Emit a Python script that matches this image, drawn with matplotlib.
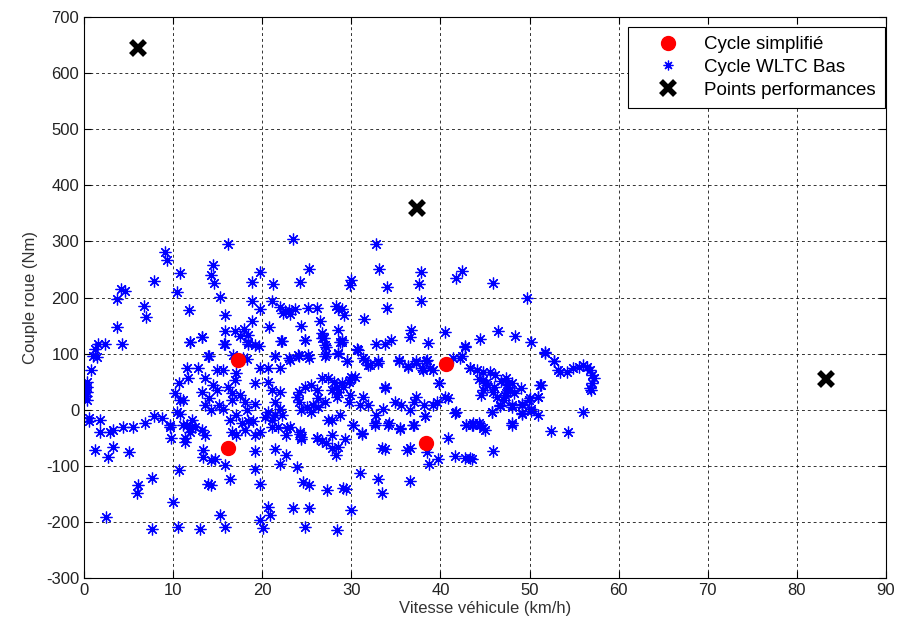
import matplotlib.pyplot as plt

plt.rcParams['font.family'] = ['Liberation Sans', 'DejaVu Sans']
plt.rcParams['axes.unicode_minus'] = False

# Cycle simplifie
simp_v = [17.3, 40.6, 16.1, 38.4]
simp_c = [88, 82, -69, -59]

# Points performances
perf_v = [6.0, 37.4, 83.3]
perf_c = [645, 360, 55]

# Cycle WLTC Bas
wltc_v = [
    # partie haute
    9.1, 9.35, 10.8, 7.9, 4.2, 4.6, 10.4, 3.7, 6.7, 6.9, 11.8, 3.7, 4.3, 11.9, 13.2,
    1.6, 1.2, 2.4, 1.05, 1.4, 0.75, 0.3, 0.3, 13.9, 14.5, 14.3, 14.6,
    16.2, 23.5, 19.7, 18.9, 21.2, 24.2, 25.3, 15.3, 18.9, 19.7, 21.1,
    22.0, 22.6, 23.1, 23.7, 22.3, 23.0, 25.1, 26.1, 28.3, 28.5,
    15.8, 18.9, 20.8, 24.4, 26.5, 15.8, 16.9, 17.9, 17.5, 18.4,
    15.7, 18.4, 19.6, 22.1, 24.8, 26.7, 26.9, 27.0, 27.2, 28.5, 28.9,
    16.7, 17.8, 21.4, 23.0, 24.0, 25.1, 28.5,
    32.8, 33.1, 30.0, 29.9, 34.0, 37.8, 37.6, 42.4, 41.8, 37.8, 34.0, 28.9, 29.2,
    31.4, 36.7, 36.6, 40.5, 32.8, 33.8, 34.5, 38.6, 42.8, 28.9,
    30.6, 31.3, 31.9, 33.0, 35.4, 36.4, 37.3, 38.4, 38.0, 39.2, 39.8, 42.2, 43.3,
    29.5, 30.0, 29.7, 28.9, 33.8,
    45.9, 49.7, 44.4, 46.5, 48.4, 50.2, 51.7, 52.7,
    53.4, 54.2, 54.9, 55.5, 56.0, 56.4, 56.8, 57.0, 57.2, 57.0, 56.8, 51.3,
    44.3, 45.1, 46.0, 46.8, 47.5, 48.3, 49.0, 44.8, 47.2,
    # partie gauche / negative
    0.3, 0.3, 0.2, 0.1, 0.6, 0.5, 1.8, 1.8, 2.9, 3.3, 4.4, 5.5, 6.8, 7.8, 8.7, 9.7,
    1.2, 3.3, 2.7, 5.0, 10.6, 7.6, 6.0, 5.9, 10.0, 13.9, 2.5, 7.6, 10.5, 13.0,
    11.1, 11.5, 11.9, 11.3, 13.4, 13.4, 14.3,
    15.3, 15.8, 16.4, 14.3, 14.7, 15.8, 19.2, 19.2, 19.8, 21.4, 22.7, 22.0, 23.9,
    24.6, 25.2, 20.7, 20.9, 19.8, 20.1, 23.5, 25.3, 24.8, 27.3, 28.4, 29.1,
    27.4, 26.1, 26.7, 27.2, 27.8, 28.5, 28.3, 22.8, 22.7, 24.2, 24.4,
    31.0, 33.0, 33.4, 29.4, 30.0, 36.6, 33.4, 33.8, 36.2, 36.6, 38.5, 38.7, 39.7,
    40.8, 41.6, 42.8, 43.3, 31.2, 29.3, 30.2, 32.7, 34.1, 35.5, 36.9, 38.3, 41.7,
    42.9, 43.5,
    45.9, 43.5, 48.0, 52.4, 54.3, 56.0, 56.9, 43.7, 44.3, 44.8, 45.8,
    49.1, 49.2, 49.9, 50.2, 51.0, 50.9, 48.0, 46.7,
    # nuage central
    11.9, 13.2, 15.8, 18.4, 19.2, 22.2, 24.8, 26.7, 27.2, 28.7,
    14.0, 18.3, 19.8, 20.7, 21.4, 22.0, 23.1, 24.1, 25.2, 27.0, 28.5,
    11.5, 12.8, 14.9, 15.6, 17.1, 16.9, 11.7, 10.6, 10.2, 10.8, 10.4, 10.8,
    13.6, 14.5, 14.9, 13.2, 14.0, 13.6, 15.1, 15.6, 14.3, 16.6, 16.6, 17.5, 18.1,
    18.3, 16.2, 19.2, 19.2, 17.1, 18.4, 19.0, 17.7, 16.4,
    20.7, 21.1, 22.0, 21.4, 20.7, 20.3, 21.1, 21.4, 22.2, 22.0,
    21.1, 21.8, 23.1, 24.2, 24.4,
    24.1, 24.8, 25.5, 26.1, 26.3, 25.7, 25.0, 24.1, 23.9, 24.4, 25.5, 26.3,
    26.7, 27.4, 28.0, 28.4, 28.5, 28.4, 27.8, 27.0, 28.7, 27.8,
    9.6, 9.8, 11.3, 11.9, 12.5, 13.2, 13.6, 12.1, 11.1,
    16.6, 17.1, 18.1, 19.2, 19.8, 26.1, 27.8,
    30.8, 29.5, 30.4, 29.9, 29.1, 29.9, 29.7, 31.0, 31.3, 31.9, 31.5, 32.1, 33.0, 33.8,
    35.3, 36.4, 37.3, 37.9, 38.5, 38.8, 39.8, 40.5, 39.6, 39.2, 38.1, 37.3, 37.0,
    35.6, 34.9, 36.6, 33.6, 32.8, 32.7, 34.2, 35.5, 37.0, 38.3, 41.6, 40.9,
    41.4, 42.4, 42.8,
    43.3, 44.1, 44.8, 45.6, 46.1, 44.8, 45.2, 45.9, 46.3, 47.1, 47.4, 47.6, 47.4,
    48.0, 47.8, 44.6, 45.8, 46.7, 48.0, 49.1, 50.1, 51.0, 51.2, 49.1, 50.2, 48.0,
    42.9, 43.7, 44.4, 45.0, 30.2, 31.2, 51.7, 52.7, 53.2,
]
wltc_c = [
    282, 266, 244, 229, 216, 212, 210, 197, 185, 165, 178, 148, 118, 120, 130,
    118, 109, 117, 96, 94, 71, 50, 41, 96, 258, 240, 225,
    295, 305, 246, 227, 224, 227, 250, 201, 194, 179, 193,
    183, 176, 170, 180, 172, 178, 181, 181, 184, 179,
    169, 159, 147, 150, 159, 141, 141, 144, 131, 133,
    117, 117, 113, 123, 125, 136, 127, 115, 99, 142, 124,
    98, 93, 96, 92, 98, 97, 100,
    295, 250, 231, 222, 218, 246, 224, 248, 234, 194, 181, 179, 169,
    161, 142, 129, 139, 118, 118, 125, 119, 114, 121,
    108, 92, 80, 84, 87, 78, 83, 87, 71, 71, 47, 92, 74,
    86, 59, 50, 47, 41,
    225, 199, 126, 140, 132, 120, 102, 87,
    68, 68, 74, 77, 80, 77, 71, 62, 56, 47, 38, 44,
    55, 48, 40, 52, 45, 30, 38, 35, 27,
    32, 17, 25, 40, -21, -15, -18, -39, -39, -36, -30, -30, -23, -12, -15, -30,
    -72, -66, -84, -75, -107, -121, -134, -149, -165, -133, -191, -213, -209, -213,
    17, -27, -33, -51, -72, -84, -90,
    -188, -210, -124, -134, -88, -99, -73, -106, -133, -70, -81, -97, -102,
    -129, -135, -173, -188, -197, -211, -176, -176, -209, -143, -214, -140,
    -18, -51, -56, -60, -69, -66, -81, -32, -46, -44, -52,
    -113, -124, -149, -141, -178, -127, -69, -70, -72, -69, -75, -96, -88,
    -50, -82, -86, -87, -44, -52, -28, -27, -27, -35, -28, -12, -5,
    -28, -27,
    -73, -88, -27, -38, -40, -5, 36, -27, -24, -32, -4,
    -8, 8, 17, -2, -9, 23, 4, 7,
    121, 130, 118, 121, 115, 122, 124, 127, 112, 121,
    95, 90, 74, 74, 95, 74, 89, 95, 93, 95, 101,
    74, 74, 71, 71, 65, 53, 56, 47, 29, 17, -4, -7,
    56, 44, 35, 32, 20, 8, 8, 2, -1, 29, 17, 26, 14,
    -1, 41, 47, 11, -9, -21, -21, -24, -19,
    50, 35, 32, 14, -4, -13, -19, -10, -10, 2,
    -30, -30, -30, -39, -48,
    32, 41, 44, 35, 20, 8, 5, 14, 23, -1, -4, 5,
    56, 56, 50, 41, 32, 23, 35, 14, -10, -19,
    -27, -51, -57, -39, -30, -36, -45, -19, -27,
    -39, -45, -36, -45, -39, -51, -45,
    106, 86, 59, 53, 41, 26, 14, 8, 23, 8, 89, 80, 86, 38,
    89, 77, 86, 74, 89, 74, 47, 23, 14, 8, 8, 23, 14,
    8, 14, -1, 2, -10, -24, -24, -33, -27, -12, -6, 20,
    92, 95, 112,
    74, 71, 68, 68, 62, 53, 44, 32, 23, 17, 29, 44, 56,
    47, 35, 26, -4, 8, 8, 11, 20, 23, 44, -6, 1, -24,
    -27, -24, -27, -36, -27, -42, 101, 86, 71,
]

fig = plt.figure(figsize=(9.04, 6.32), dpi=100)
ax = fig.add_axes([0.093, 0.0855, 0.887, 0.8875])

ax.plot(simp_v, simp_c, 'o', color='red', markersize=10, zorder=3,
        label='Cycle simplifié')
# asterisque facon matlab (8 branches)
ax.plot(wltc_v, wltc_c, linestyle='none', marker=(8, 2, 0), color='blue',
        markersize=8.5, markeredgewidth=0.9, zorder=2, label='Cycle WLTC Bas')
ax.plot(perf_v, perf_c, 'x', color='black', markersize=10, markeredgewidth=4,
        zorder=3, label='Points performances')

ax.set_xlim(0, 90)
ax.set_ylim(-300, 700)
ax.set_xticks(range(0, 91, 10))
ax.set_yticks(range(-300, 701, 100))
ax.grid(True, color='black', linestyle=(0, (3, 3)), linewidth=0.7, alpha=0.8)
ax.tick_params(direction='in', top=True, right=True, labelsize=12, length=5,
               labelcolor='#222222')
for s in ax.spines.values():
    s.set_linewidth(0.8)

ax.set_xlabel('Vitesse véhicule (km/h)', fontsize=12, color='#333333', labelpad=2)
ax.set_ylabel('Couple roue (Nm)', fontsize=12, color='#333333', labelpad=6)

leg = ax.legend(loc='upper right', bbox_to_anchor=(0.999, 0.983), fontsize=13.5,
                fancybox=False, framealpha=1, edgecolor='black', borderaxespad=0,
                handletextpad=0.35, labelspacing=0.3, handlelength=3.2,
                borderpad=0.5)
leg.get_frame().set_linewidth(0.8)
leg.legend_handles[1].set_markersize(7)

fig.savefig('out.png', dpi=100)
